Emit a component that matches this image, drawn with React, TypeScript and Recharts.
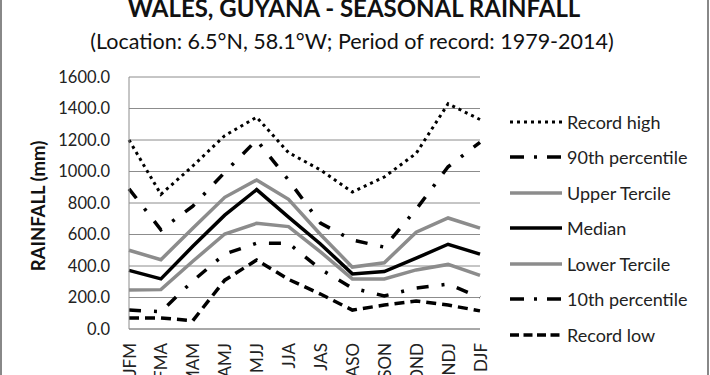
import { LineChart, Line, XAxis, YAxis, CartesianGrid } from "recharts";

const categories = ["JFM", "FMA", "MAM", "AMJ", "MJJ", "JJA", "JAS", "ASO", "SON", "OND", "NDJ", "DJF"];
const recordHigh = [1200, 855, 1035, 1228, 1345, 1120, 1010, 870, 965, 1115, 1430, 1330];
const p90 = [890, 630, 780, 995, 1200, 945, 672, 565, 520, 760, 1030, 1185];
const upperTercile = [500, 440, 640, 836, 946, 823, 600, 393, 420, 615, 705, 640];
const median = [372, 318, 525, 723, 885, 710, 540, 350, 365, 450, 538, 475];
const lowerTercile = [248, 250, 430, 603, 671, 650, 490, 318, 318, 375, 410, 340];
const p10 = [120, 110, 305, 476, 545, 544, 380, 260, 210, 260, 285, 200];
const recordLow = [70, 70, 53, 310, 438, 315, 222, 120, 152, 178, 152, 115];
const yTicks = [0, 200, 400, 600, 800, 1000, 1200, 1400, 1600];

const data = categories.map((c, i) => ({
  season: c,
  recordHigh: recordHigh[i],
  p90: p90[i],
  upperTercile: upperTercile[i],
  median: median[i],
  lowerTercile: lowerTercile[i],
  p10: p10[i],
  recordLow: recordLow[i],
}));

const FONT = "Lato, 'Open Sans', sans-serif";
const GREY = "#8c8c8c";

const series = [
  { key: "recordHigh", name: "Record high", color: "#000", width: 3, dash: "3 4", legendDash: "3 4" },
  { key: "p90", name: "90th percentile", color: "#000", width: 3.5, dash: "12 13 3 13", legendDash: "14 10 3 10" },
  { key: "upperTercile", name: "Upper Tercile", color: GREY, width: 3.5, dash: undefined, legendDash: undefined },
  { key: "median", name: "Median", color: "#000", width: 3.5, dash: undefined, legendDash: undefined },
  { key: "lowerTercile", name: "Lower Tercile", color: GREY, width: 3.5, dash: undefined, legendDash: undefined },
  { key: "p10", name: "10th percentile", color: "#000", width: 3.5, dash: "12 13 3 13", legendDash: "14 10 3 10" },
  { key: "recordLow", name: "Record low", color: "#000", width: 3.5, dash: "10 6", legendDash: "9 4.5" },
];

function SeasonTick({ x, y, payload }: any) {
  return (
    <text
      x={x}
      y={y + 14}
      transform={`rotate(-90 ${x} ${y + 14})`}
      textAnchor="end"
      dominantBaseline="central"
      fontSize={17}
      fontFamily={FONT}
      fill="#222"
    >
      {payload.value}
    </text>
  );
}

function LegendBox() {
  return (
    <div style={{ position: "absolute", left: 508, top: 104, fontFamily: FONT, fontSize: 18, color: "#222" }}>
      {series.map(s => (
        <div key={s.key} style={{ display: "flex", alignItems: "center", height: 35.5 }}>
          <svg width={56} height={10} style={{ marginRight: 3 }}>
            <line x1={2} y1={5} x2={54} y2={5} stroke={s.color} strokeWidth={s.width} strokeDasharray={s.legendDash} />
          </svg>
          <span>{s.name}</span>
        </div>
      ))}
    </div>
  );
}

export default function App() {
  return (
    <div
      style={{
        position: "absolute",
        left: 0,
        top: 0,
        width: 710,
        height: 375,
        background: "#fff",
        overflow: "hidden",
        fontFamily: FONT,
      }}
    >
      <div style={{ position: "absolute", left: 0, top: 0, width: 2, height: 375, background: "#888" }} />
      <div style={{ position: "absolute", left: 707, top: 0, width: 2, height: 375, background: "#888" }} />
      <div
        style={{
          position: "absolute",
          top: -7,
          left: 0,
          width: 708,
          textAlign: "center",
          fontWeight: 700,
          fontSize: 24,
          color: "#111",
        }}
      >
        WALES, GUYANA - SEASONAL RAINFALL
      </div>
      <div
        style={{
          position: "absolute",
          top: 28,
          left: 0,
          width: 704,
          textAlign: "center",
          fontSize: 21.5,
          color: "#111",
        }}
      >
        (Location: 6.5°N, 58.1°W; Period of record: 1979-2014)
      </div>
      <div
        style={{
          position: "absolute",
          left: 38,
          top: 206,
          transform: "translate(-50%, -50%) rotate(-90deg)",
          whiteSpace: "nowrap",
          fontWeight: 700,
          fontSize: 18.5,
          color: "#111",
        }}
      >
        RAINFALL (mm)
      </div>
      <LineChart
        width={710}
        height={375}
        data={data}
        margin={{ top: 77, right: 230, bottom: 0, left: 0 }}
        style={{ position: "absolute", left: 0, top: 0 }}
      >
        <CartesianGrid vertical={false} stroke={GREY} strokeWidth={1} />
        <XAxis
          dataKey="season"
          height={46}
          interval={0}
          tickLine={false}
          tickSize={0}
          tickMargin={0}
          stroke={GREY}
          tick={<SeasonTick />}
        />
        <YAxis
          width={129}
          domain={[0, 1600]}
          ticks={yTicks}
          interval={0}
          tickLine={false}
          tickSize={0}
          tickMargin={19}
          stroke={GREY}
          tickFormatter={(v: number) => v.toFixed(1)}
          tick={{ fontSize: 16.5, fontFamily: FONT, fill: "#222" }}
        />
        {series.map(s => (
          <Line
            key={s.key}
            type="linear"
            dataKey={s.key}
            name={s.name}
            stroke={s.color}
            strokeWidth={s.width}
            strokeDasharray={s.dash}
            dot={false}
            activeDot={false}
            isAnimationActive={false}
          />
        ))}
      </LineChart>
      <LegendBox />
    </div>
  );
}
